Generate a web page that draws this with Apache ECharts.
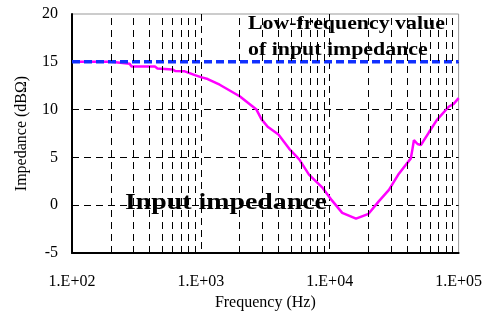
<!DOCTYPE html>
<html>
<head>
<meta charset="utf-8">
<script src="https://cdn.jsdelivr.net/npm/echarts@6/dist/echarts.min.js"></script>
<style>
  html, body { margin: 0; padding: 0; background: #fff; }
  #chart { width: 485px; height: 324px; }
</style>
</head>
<body>
<div id="chart"></div>
<script>
// measured impedance curve (Hz, dBΩ)
const freqHz = [100, 200, 205, 280, 290, 440, 460, 600, 630, 750, 900, 1000, 1130, 1400, 2000, 2700, 2950, 3300, 4000, 4850, 5800, 6900, 8700, 10400, 12500, 16000, 20000, 24000, 28800, 34400, 42600, 44000, 45000, 48000, 51000, 58700, 67700, 83800, 91600, 100000];
const impedanceDb = [15, 15, 14.8, 14.8, 14.5, 14.5, 14.3, 14.2, 14.05, 14.0, 13.6, 13.4, 13.2, 12.6, 11.4, 10.0, 9.0, 8.2, 7.4, 5.9, 4.8, 3.2, 1.9, 0.5, -0.8, -1.4, -0.9, 0.4, 1.6, 3.3, 4.9, 6.0, 6.8, 6.4, 6.3, 7.6, 8.9, 10.3, 10.6, 11.2];

// low-frequency value of input impedance
const lowFreqRange = [100, 100000];
const lowFreqLevel = 15;

// minor vertical grid lines (2..9 per decade)
const minorFreqs = [200, 300, 400, 500, 600, 700, 800, 900,
  2000, 3000, 4000, 5000, 6000, 7000, 8000, 9000,
  20000, 30000, 40000, 50000, 60000, 70000, 80000, 90000];

const xMin = 100, xMax = 100000;
const yMin = -5, yMax = 20, yStep = 5;

const serif = '"Liberation Serif", "Times New Roman", serif';
const dash = { color: '#000', width: 1, type: [7, 5] };

const chart = echarts.init(document.getElementById('chart'), null, { renderer: 'canvas' });

chart.setOption({
  animation: false,
  backgroundColor: '#fff',
  grid: { left: 72, right: 25, top: 14, bottom: 71, show: true, borderColor: '#999', borderWidth: 1 },
  xAxis: {
    type: 'log', logBase: 10, min: xMin, max: xMax,
    name: 'Frequency (Hz)', nameLocation: 'middle', nameGap: 41,
    nameTextStyle: { fontFamily: serif, fontSize: 16, color: '#000' },
    axisLine: { onZero: false, lineStyle: { color: '#000', width: 2 } },
    axisTick: { show: false },
    axisLabel: {
      margin: 21, fontFamily: serif, fontSize: 16, color: '#000',
      formatter: v => '1.E+0' + Math.round(Math.log10(v))
    },
    splitLine: { show: true, showMinLine: false, showMaxLine: false, lineStyle: dash },
    minorTick: { show: false },
    minorSplitLine: { show: false }
  },
  yAxis: {
    type: 'value', min: yMin, max: yMax, interval: yStep,
    name: 'Impedance (dBΩ)', nameLocation: 'middle', nameGap: 42,
    nameTextStyle: { fontFamily: serif, fontSize: 16, color: '#000' },
    axisLine: { show: true, onZero: false, lineStyle: { color: '#000', width: 2 } },
    axisTick: { show: false },
    axisLabel: { margin: 14, fontFamily: serif, fontSize: 16, color: '#000' },
    splitLine: { show: true, showMinLine: false, showMaxLine: false, lineStyle: dash }
  },
  series: [
    {
      name: 'grid',
      type: 'line',
      data: [],
      silent: true,
      markLine: {
        silent: true,
        symbol: 'none',
        label: { show: false },
        lineStyle: dash,
        data: minorFreqs.map(f => ({ xAxis: f }))
      }
    },
    {
      name: 'Input impedance',
      type: 'line',
      data: freqHz.map((f, i) => [f, impedanceDb[i]]),
      showSymbol: false,
      lineStyle: { color: '#ff00ff', width: 2.5 },
      z: 3
    },
    {
      name: 'Low-frequency value',
      type: 'line',
      data: lowFreqRange.map(f => [f, lowFreqLevel]),
      showSymbol: false,
      lineStyle: { color: '#1030ff', width: 3.5, type: [8, 4] },
      z: 4
    }
  ],
  graphic: [
    {
      type: 'text', x: 248, y: 24, scaleX: 1.15, z: 10,
      style: { text: 'Low-frequency value', x: 0, y: 0, fill: '#000', font: 'bold 19px ' + serif, textAlign: 'left', textVerticalAlign: 'middle' }
    },
    {
      type: 'text', x: 248, y: 50, scaleX: 1.15, z: 10,
      style: { text: 'of input impedance', x: 0, y: 0, fill: '#000', font: 'bold 19px ' + serif, textAlign: 'left', textVerticalAlign: 'middle' }
    },
    {
      type: 'text', x: 125, y: 203, scaleX: 1.16, z: 10,
      style: { text: 'Input impedance', x: 0, y: 0, fill: '#000', font: 'bold 24px ' + serif, textAlign: 'left', textVerticalAlign: 'middle' }
    }
  ]
});
</script>
</body>
</html>
